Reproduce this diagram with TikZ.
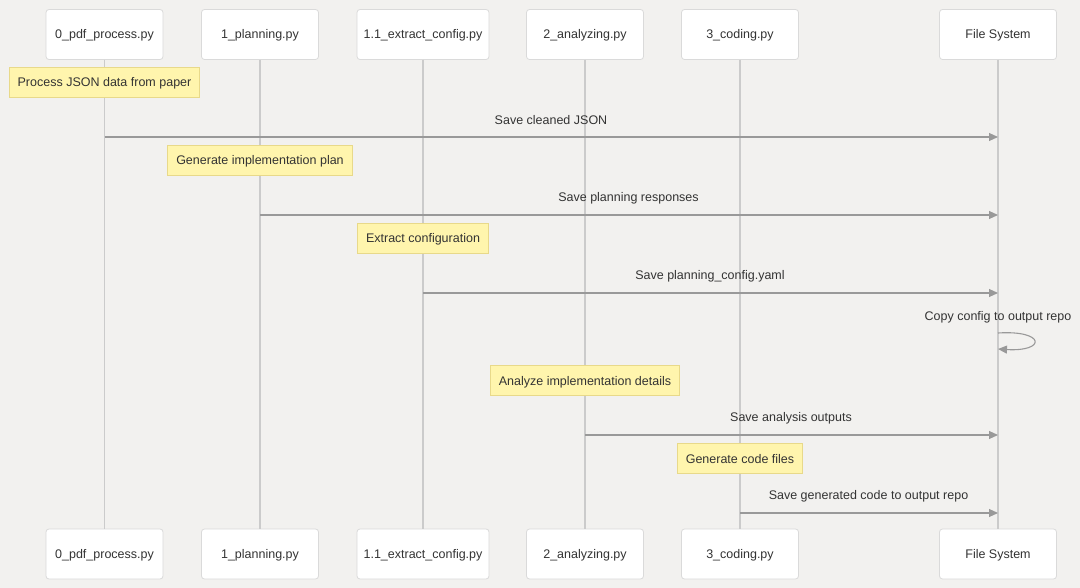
\documentclass[tikz,border=0pt]{standalone}
\usepackage{fontspec}
\setmainfont{Liberation Sans}
\usetikzlibrary{arrows.meta}
\definecolor{bg}{HTML}{F2F1EF}
\definecolor{actborder}{HTML}{DADADA}
\definecolor{lifeline}{HTML}{CBCBCB}
\definecolor{msgline}{HTML}{999999}
\definecolor{notefill}{HTML}{FFF5AD}
\definecolor{noteborder}{HTML}{E8D98A}
\definecolor{txt}{HTML}{333333}
\begin{document}
\begin{tikzpicture}[x=1pt,y=-1pt,
  font=\fontsize{12.5}{14}\selectfont, text=txt,
  actor/.style={draw=actborder, fill=white, rounded corners=3pt, line width=0.8pt,
    minimum width=117pt, minimum height=50pt, inner sep=0pt,
    text height=9.5pt, text depth=0.5pt},
  note/.style={draw=noteborder, fill=notefill, line width=0.8pt,
    minimum height=30pt, inner xsep=8.5pt, inner ysep=0pt,
    text height=9.5pt, text depth=0.5pt},
  life/.style={draw=lifeline, line width=1.5pt},
  msg/.style={draw=msgline, line width=1.1pt, -{Triangle[length=9pt,width=8pt]}},
  lbl/.style={inner sep=0pt}]
\fill[bg] (0,0) rectangle (1080,588);
\useasboundingbox (0,0) rectangle (1080,588);

% top actors
\node[actor] (a0) at (104.5,34.5) {0\_pdf\_process.py};
\node[actor] (a1) at (260,34.5) {1\_planning.py};
\node[actor, minimum width=132pt] (a2) at (423,34.5) {1.1\_extract\_config.py};
\node[actor] (a3) at (585,34.5) {2\_analyzing.py};
\node[actor] (a4) at (740,34.5) {3\_coding.py};
\node[actor] (a5) at (998,34.5) {File System};

% bottom actors
\node[actor] (b0) at (104.5,554) {0\_pdf\_process.py};
\node[actor] (b1) at (260,554) {1\_planning.py};
\node[actor, minimum width=132pt] (b2) at (423,554) {1.1\_extract\_config.py};
\node[actor] (b3) at (585,554) {2\_analyzing.py};
\node[actor] (b4) at (740,554) {3\_coding.py};
\node[actor] (b5) at (998,554) {File System};

% lifelines
\foreach \i in {0,...,5} {
  \draw[life] (a\i.south) -- (b\i.north);
}

% notes
\node[note] (n1) at (104.5,82.5) {Process JSON data from paper};
\node[note] (n2) at (260,160.5) {Generate implementation plan};
\node[note] (n3) at (423,238.5) {Extract configuration};
\node[note] (n4) at (585,380.5) {Analyze implementation details};
\node[note] (n5) at (740,458.5) {Generate code files};

% messages
\draw[msg] (a0 |- 0,137) -- (a5 |- 0,137);
\node[lbl] (l1) at (551,120.5) {Save cleaned JSON};

\draw[msg] (a1 |- 0,215) -- (a5 |- 0,215);
\node[lbl] (l2) at (628.5,198.5) {Save planning responses};

\draw[msg] (a2 |- 0,293) -- (a5 |- 0,293);
\node[lbl] (l3) at (710,276.5) {Save planning\_config.yaml};

\coordinate (s1) at (998,333);
\coordinate (s2) at (998,349);
\draw[msg] (s1) .. controls (1046,330) and (1046,352) .. (s2);
\node[lbl] (l4) at (998,317) {Copy config to output repo};

\draw[msg] (a3 |- 0,435) -- (a5 |- 0,435);
\node[lbl] (l5) at (791,418.5) {Save analysis outputs};

\draw[msg] (a4 |- 0,513) -- (a5 |- 0,513);
\node[lbl] (l6) at (868.5,496.5) {Save generated code to output repo};
\end{tikzpicture}
\end{document}
